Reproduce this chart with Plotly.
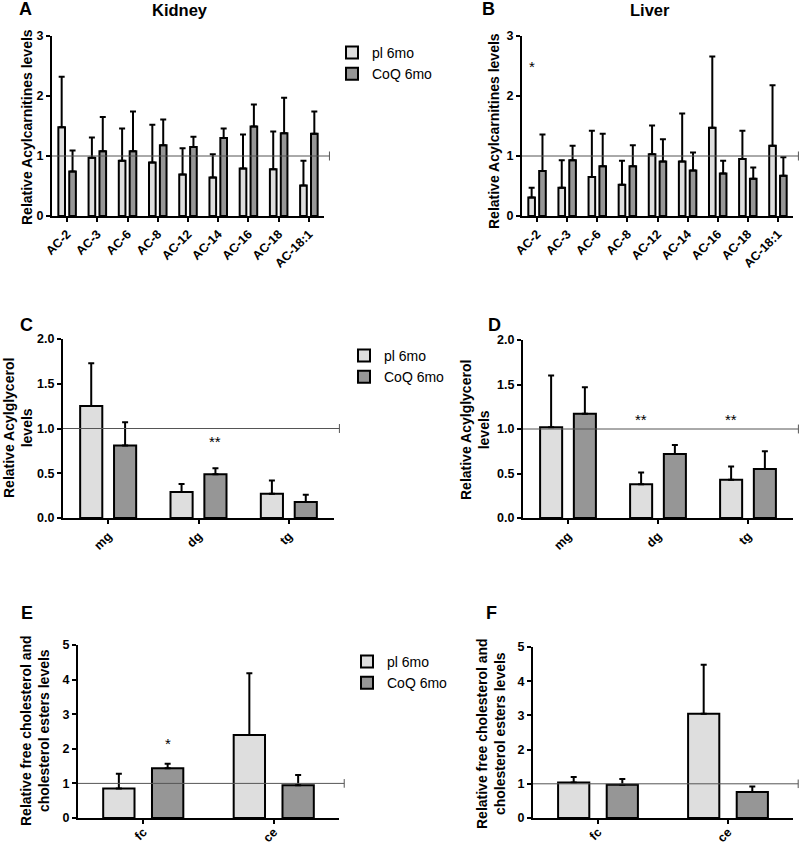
import plotly.graph_objects as go

# ---------------- data ----------------
ac_categories = ['AC-2', 'AC-3', 'AC-6', 'AC-8', 'AC-12', 'AC-14', 'AC-16', 'AC-18', 'AC-18:1']
kidney_ac_pl = [1.48, 0.97, 0.92, 0.89, 0.69, 0.64, 0.79, 0.78, 0.51]
kidney_ac_pl_err = [0.84, 0.34, 0.54, 0.63, 0.44, 0.39, 0.57, 0.63, 0.41]
kidney_ac_coq = [0.74, 1.08, 1.08, 1.18, 1.15, 1.30, 1.49, 1.38, 1.37]
kidney_ac_coq_err = [0.35, 0.57, 0.66, 0.43, 0.17, 0.16, 0.37, 0.59, 0.37]
liver_ac_pl = [0.31, 0.47, 0.65, 0.52, 1.03, 0.91, 1.47, 0.95, 1.17]
liver_ac_pl_err = [0.16, 0.46, 0.77, 0.40, 0.48, 0.80, 1.19, 0.47, 1.01]
liver_ac_coq = [0.75, 0.93, 0.83, 0.83, 0.91, 0.76, 0.71, 0.62, 0.67]
liver_ac_coq_err = [0.61, 0.24, 0.54, 0.35, 0.37, 0.30, 0.21, 0.19, 0.31]

ag_categories = ['mg', 'dg', 'tg']
kidney_ag_pl = [1.25, 0.29, 0.27]
kidney_ag_pl_err = [0.48, 0.09, 0.15]
kidney_ag_coq = [0.81, 0.49, 0.18]
kidney_ag_coq_err = [0.26, 0.065, 0.08]
liver_ag_pl = [1.02, 0.38, 0.43]
liver_ag_pl_err = [0.58, 0.13, 0.15]
liver_ag_coq = [1.17, 0.72, 0.55]
liver_ag_coq_err = [0.30, 0.10, 0.20]

ch_categories = ['fc', 'ce']
kidney_ch_pl = [0.85, 2.40]
kidney_ch_pl_err = [0.43, 1.78]
kidney_ch_coq = [1.44, 0.95]
kidney_ch_coq_err = [0.13, 0.29]
liver_ch_pl = [1.04, 3.05]
liver_ch_pl_err = [0.16, 1.43]
liver_ch_coq = [0.97, 0.76]
liver_ch_coq_err = [0.17, 0.16]

series_names = ['pl 6mo', 'CoQ 6mo']
reference_level = 1

# significance marks: (panel, category, group, y, text)
sig_marks = [
    (2, 'AC-2', 'pl', 2.57, '*'),
    (3, 'dg', 'coq', 0.91, '**'),
    (4, 'dg', 'pl', 1.16, '**'),
    (4, 'tg', 'pl', 1.16, '**'),
    (5, 'fc', 'coq', 2.30, '*'),
    (6, 'ce', 'pl', 5.10, '*'),
]

# ---------------- style ----------------
W, H = 800, 846
FONT = 'Arial, Liberation Sans, sans-serif'
PL_COLOR = '#dedede'
COQ_COLOR = '#969696'


def px_x(p):
    return p / W


def px_y(p):
    return 1 - p / H


# panel boxes in pixels: (x0, x1, ytop, ybottom)
boxes = {
    1: (52, 324, 36, 216),
    2: (522, 793, 36, 216),
    3: (63, 334, 339, 518),
    4: (523, 793, 340, 518),
    5: (78, 339, 645, 818),
    6: (533, 793, 647, 818),
}
bar_geom = {  # offset, width (category units)
    1: (-0.29, 0.22), 2: (-0.29, 0.22),
    3: (-0.31, 0.245), 4: (-0.31, 0.245),
    5: (-0.307, 0.24), 6: (-0.307, 0.24),
}
label_standoff = {1: 0, 2: 0, 3: 0, 4: 0, 5: -4, 6: -4}
yranges = {1: (0, 3, 1, None), 2: (0, 3, 1, None), 3: (0, 2, 0.5, '.1f'),
           4: (0, 2, 0.5, '.1f'), 5: (0, 5, 1, None), 6: (0, 5, 1, None)}

panels = {
    1: (ac_categories, kidney_ac_pl, kidney_ac_pl_err, kidney_ac_coq, kidney_ac_coq_err, 'legend'),
    2: (ac_categories, liver_ac_pl, liver_ac_pl_err, liver_ac_coq, liver_ac_coq_err, None),
    3: (ag_categories, kidney_ag_pl, kidney_ag_pl_err, kidney_ag_coq, kidney_ag_coq_err, 'legend2'),
    4: (ag_categories, liver_ag_pl, liver_ag_pl_err, liver_ag_coq, liver_ag_coq_err, None),
    5: (ch_categories, kidney_ch_pl, kidney_ch_pl_err, kidney_ch_coq, kidney_ch_coq_err, 'legend3'),
    6: (ch_categories, liver_ch_pl, liver_ch_pl_err, liver_ch_coq, liver_ch_coq_err, None),
}

fig = go.Figure()
layout = dict(
    width=W, height=H, margin=dict(l=0, r=0, t=0, b=0, autoexpand=False),
    paper_bgcolor='white', plot_bgcolor='white',
    barmode='overlay', font=dict(family=FONT, color='black'),
    shapes=[], annotations=[],
)

for i, (cats, pl, pl_err, coq, coq_err, leg) in panels.items():
    xa = 'x' if i == 1 else f'x{i}'
    ya = 'y' if i == 1 else f'y{i}'
    off, wid = bar_geom[i]
    gap = -2 * off - 2 * wid
    for name, vals, errs, color, o in [
        (series_names[0], pl, pl_err, PL_COLOR, off),
        (series_names[1], coq, coq_err, COQ_COLOR, off + wid + gap),
    ]:
        kw = dict(legend=leg, showlegend=True) if leg else dict(showlegend=False)
        fig.add_trace(go.Bar(
            x=cats, y=vals, name=name, xaxis=xa, yaxis=ya,
            offset=o, width=wid, cliponaxis=False,
            marker=dict(color=color, line=dict(color='black', width=2)),
            error_y=dict(type='data', array=errs, arrayminus=[0] * len(errs),
                         symmetric=False, color='black', thickness=2, width=3),
            **kw,
        ))
    x0, x1, yt, yb = boxes[i]
    lo, hi, dt, fmt = yranges[i]
    xkey = 'xaxis' if i == 1 else f'xaxis{i}'
    ykey = 'yaxis' if i == 1 else f'yaxis{i}'
    layout[xkey] = dict(
        domain=[px_x(x0), px_x(x1)], anchor=ya, range=[-0.5, len(cats) - 0.5],
        automargin=False, ticklabelstandoff=label_standoff[i],
        showline=True, linecolor='black', linewidth=2, ticks='outside', ticklen=4,
        tickwidth=2, tickcolor='black', tickangle=-45, showgrid=False, zeroline=False,
        tickfont=dict(family=FONT, size=12.5, weight='bold', color='black'),
    )
    layout[ykey] = dict(
        domain=[px_y(yb), px_y(yt)], anchor=xa, range=[lo, hi], dtick=dt,
        automargin=False,
        tickformat=fmt, showline=True, linecolor='black', linewidth=2,
        ticks='outside', ticklen=4, tickwidth=2, tickcolor='black',
        showgrid=False, zeroline=False,
        tickfont=dict(family=FONT, size=12.5, weight='bold', color='black'),
    )
    # reference line at 1 with end tick
    layout['shapes'].append(dict(type='line', xref=f'{xa} domain', yref=ya,
                                 x0=0, x1=1.02, y0=reference_level, y1=reference_level,
                                 line=dict(color='#555555', width=1)))
    span = (hi - lo) * 0.025
    layout['shapes'].append(dict(type='line', xref=f'{xa} domain', yref=ya,
                                 x0=1.02, x1=1.02, y0=reference_level - span,
                                 y1=reference_level + span,
                                 line=dict(color='#555555', width=1)))

# significance annotations
for panel, cat, grp, yv, txt in sig_marks:
    xa = 'x' if panel == 1 else f'x{panel}'
    ya = 'y' if panel == 1 else f'y{panel}'
    off, wid = bar_geom[panel]
    x0, x1, _, _ = boxes[panel]
    ncat = len(panels[panel][0])
    unit = (x1 - x0) / ncat
    center = off + wid / 2 if grp == 'pl' else -(off + wid / 2)
    layout['annotations'].append(dict(
        x=cat, y=yv, xref=xa, yref=ya, text=txt, showarrow=False,
        xshift=center * unit, yshift=-5,
        font=dict(family=FONT, size=15, color='black')))

# panel letters, titles, axis titles
texts = [
    ('A', 25, 9, 18, 'bold', 0), ('B', 489, 9, 18, 'bold', 0),
    ('C', 26, 325, 18, 'bold', 0), ('D', 494, 325, 18, 'bold', 0),
    ('E', 27, 613, 18, 'bold', 0), ('F', 491, 613, 18, 'bold', 0),
    ('Kidney', 180, 10, 16.5, 'bold', 0), ('Liver', 650, 10, 16.5, 'bold', 0),
    ('Relative Acylcarnitines levels', 27, 127, 14, 'bold', -90),
    ('Relative Acylcarnitines levels', 494, 131, 14, 'bold', -90),
    ('Relative Acylglycerol<br>levels', 18, 428, 14, 'bold', -90),
    ('Relative Acylglycerol<br>levels', 475, 430, 14, 'bold', -90),
    ('Relative free cholesterol and<br>cholesterol esters levels', 35, 731, 14, 'bold', -90),
    ('Relative free cholesterol and<br>cholesterol esters levels', 491, 734, 14, 'bold', -90),
]
for t, x, y, s, w, ang in texts:
    layout['annotations'].append(dict(
        x=px_x(x), y=px_y(y), xref='paper', yref='paper', text=t, showarrow=False,
        xanchor='center', yanchor='middle', textangle=ang,
        font=dict(family=FONT, size=s, weight=w, color='black')))

leg_common = dict(xanchor='left', yanchor='top', bgcolor='rgba(0,0,0,0)',
                  font=dict(family=FONT, size=14, color='black'),
                  tracegroupgap=0, itemclick=False)
layout['legend'] = dict(x=px_x(332), y=px_y(37), **leg_common)
layout['legend2'] = dict(x=px_x(344), y=px_y(340), **leg_common)
layout['legend3'] = dict(x=px_x(347), y=px_y(646), **leg_common)

fig.update_layout(**layout)
fig.write_html('out.html', config={'displayModeBar': False},
               post_script="document.body.style.margin='0';document.body.style.padding='0';")
